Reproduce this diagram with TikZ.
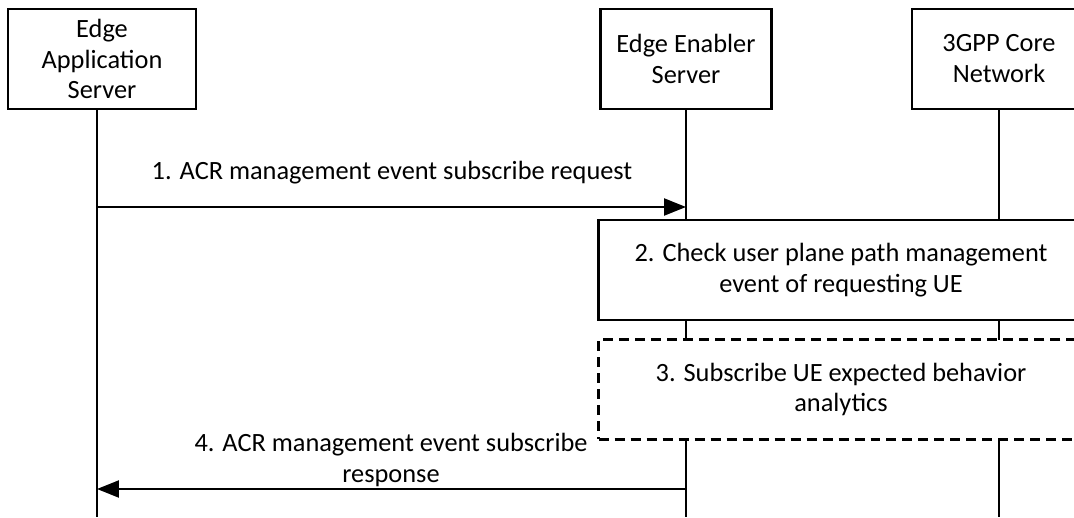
\documentclass[tikz,border=0pt]{standalone}
\usepackage{fontspec}
\setmainfont{Carlito}
\usetikzlibrary{arrows.meta}

\begin{document}
\begin{tikzpicture}[x=0.02cm,y=-0.02cm,
  line width=1.3pt,
  every node/.style={font=\fontsize{15}{17.6}\selectfont, align=center},
  actor/.style={draw, minimum height=2cm, inner sep=0pt},
  stepbox/.style={draw, fill=white, minimum height=2cm, minimum width=9.7cm},
  optbox/.style={stepbox, dash pattern=on 0.2cm off 0.12cm},
  msg/.style={-{Triangle[length=0.44cm,width=0.34cm]}}]
\useasboundingbox (0,0) rectangle (1074,517);
\clip (0,0) rectangle (1074,517);
% entities
\node[actor, minimum width=3.76cm] (as) at (102,59) {Edge\\Application\\Server};
\node[actor, minimum width=3.42cm] (ees) at (686,59) {Edge Enabler\\Server};
\node[actor, minimum width=3.48cm] (cn) at (999,59) {3GPP Core\\Network};
% lifelines
\coordinate (asT) at (97,109);
\coordinate (asB) at (97,517);
\coordinate (eesB) at (686,517);
\coordinate (cnB) at (999,517);
\draw (asT) -- (asB);
\draw (ees.south) -- (eesB);
\draw (cn.south) -- (cnB);
% 1
\coordinate (m1s) at (97,207);
\coordinate (m1e) at (686,207);
\draw[msg] (m1s) -- (m1e);
\node (l1) at (392,173) {1. ACR management event subscribe request};
% 2
\node[stepbox] (s2) at (841,270) {2. Check user plane path management\\event of requesting UE};
% 3
\node[optbox] (s3) at (841,389.5) {3. Subscribe UE expected behavior\\analytics};
% 4
\coordinate (m4s) at (686,489);
\coordinate (m4e) at (97,489);
\draw[msg] (m4s) -- (m4e);
\node (l4) at (391,460) {4. ACR management event subscribe\\response};
\end{tikzpicture}
\end{document}
